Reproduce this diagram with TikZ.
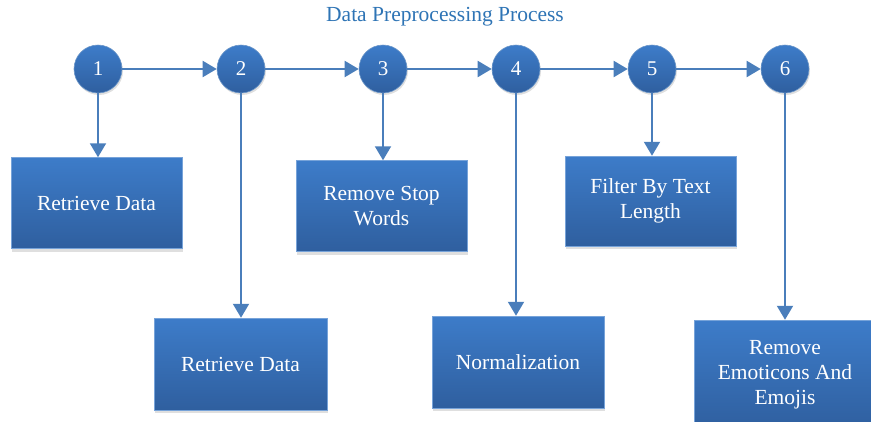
\documentclass[tikz,border=0pt]{standalone}
\usepackage{fontspec}
\setmainfont{Liberation Serif}
\usetikzlibrary{positioning,arrows.meta,shadows}
\definecolor{stepblue}{HTML}{3D7CC9}
\definecolor{stepdark}{HTML}{2F5F9F}
\definecolor{linkblue}{HTML}{4A7EBB}
\definecolor{titleblue}{HTML}{2E74B5}

\begin{document}
\begin{tikzpicture}[x=1pt, y=-1pt,
  circ/.style={circle, minimum size=48pt, inner sep=0pt, draw=linkblue!80!white, line width=0.6pt, top color=stepblue, bottom color=stepdark, text=white, font=\fontsize{21}{24}\selectfont, drop shadow={opacity=0.25, shadow xshift=1pt, shadow yshift=-2pt}},
  box/.style={rectangle, minimum width=171pt, minimum height=91pt, align=center, draw=stepblue!70!white, line width=0.5pt, top color=stepblue, bottom color=stepdark, text=white, font=\fontsize{21.5}{25}\selectfont, drop shadow={opacity=0.25, shadow xshift=1pt, shadow yshift=-3pt}},
  arrow/.style={-{Triangle[length=14pt, width=16pt]}, draw=linkblue, line width=2pt}
]
\useasboundingbox (0,0) rectangle (871,421);

\node[font=\fontsize{21.5}{24}\selectfont, text=titleblue] (title) at (445,17) {Data Preprocessing Process};

\node[circ] (c1) at (98,69) {1};
\node[circ] (c2) at (241,69) {2};
\node[circ] (c3) at (383,69) {3};
\node[circ] (c4) at (516,69) {4};
\node[circ] (c5) at (652,69) {5};
\node[circ] (c6) at (785,69) {6};

\node[box] (b1) at (96.5,203) {Retrieve Data};
\node[box, minimum width=173pt, minimum height=92pt] (b2) at (240.5,364) {Retrieve Data};
\node[box] (b3) at (381.5,206) {Remove Stop\\Words};
\node[box, minimum width=172pt, minimum height=92pt] (b4) at (518,362) {Normalization};
\node[box, minimum height=90pt] (b5) at (650.5,201) {Filter By Text\\Length};
\node[box, minimum width=182pt, minimum height=110pt] (b6) at (785,375) {Remove\\Emoticons And\\Emojis};

\draw[arrow] (c1) -- (c2);
\draw[arrow] (c2) -- (c3);
\draw[arrow] (c3) -- (c4);
\draw[arrow] (c4) -- (c5);
\draw[arrow] (c5) -- (c6);

\draw[arrow] (c1.south) -- (c1.south |- b1.north);
\draw[arrow] (c2.south) -- (c2.south |- b2.north);
\draw[arrow] (c3.south) -- (c3.south |- b3.north);
\draw[arrow] (c4.south) -- (c4.south |- b4.north);
\draw[arrow] (c5.south) -- (c5.south |- b5.north);
\draw[arrow] (c6.south) -- (c6.south |- b6.north);
\end{tikzpicture}
\end{document}
